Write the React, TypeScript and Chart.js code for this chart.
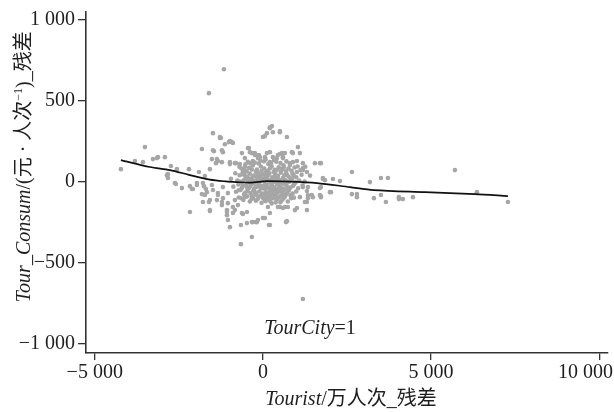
import React, { useEffect, useRef } from "react";
import { Chart, registerables } from "chart.js";

Chart.register(...registerables);

// Residual scatter points: [Tourist residual (万人次), Tour_Consum residual (元/人次)]
const residPoints: [number, number][] = [
  [-4222, 80], [-3508, 216], [-3805, 130], [-3568, 123], [-3270, 142], [-3122, 154], [-2914, 154],
  [-2735, 99], [-2824, 49], [-2824, 25], [-2587, -12], [-2408, -37], [-2557, 80], [-2200, 80],
  [-2170, -25], [-2170, -185], [-2111, -43], [-1903, 62], [-1962, -6], [-1814, 204], [-1724, 37],
  [-1754, -25], [-1695, -43], [-1724, -80], [-1784, -123], [-1605, -123], [-1576, -179], [-1516, 142],
  [-1457, 191], [-1576, 80], [-1486, 302], [-1397, 117], [-1338, 130], [-1159, 697], [-1605, 549],
  [-1278, 278], [-1011, 247], [-892, 241], [-1130, 234], [-416, 210], [-119, 167], [0, 278],
  [208, 339], [297, 308], [505, 308], [713, 278], [1041, 216], [892, 179], [565, 179], [119, 179],
  [-238, 179], [-803, 117], [-981, 123], [-1219, 123], [-1368, 142], [-624, 179], [-535, 148],
  [1100, 179], [1308, 62], [1546, 117], [1189, 117], [803, 117], [595, 154], [-1249, 272],
  [-922, 247], [-1486, 197], [-1189, 185], [-327, 179], [268, 346], [59, 284], [862, 185],
  [654, 179], [446, 167], [-89, 154], [1724, 117], [1011, 130], [1784, 19], [2081, 19], [2290, 6],
  [1189, -31], [1338, -80], [1486, -93], [1308, -123], [1724, -93], [1992, -62], [1011, -160],
  [743, -154], [446, -154], [595, -160], [713, -241], [0, -222], [-208, -247], [-327, -247],
  [178, -265], [-327, -339], [-654, -265], [-981, -278], [-654, -383], [-1070, -204], [-1070, -173],
  [-1576, -173], [-2616, -6], [-2854, 43], [-3151, 148], [-2081, -43], [-1962, -18], [-1784, -6],
  [-1516, -18], [-1814, -74], [-1665, -62], [-1486, -49], [-1338, -80], [-1189, -99], [-1041, -68],
  [-1368, -111], [-1576, -111], [-1219, -142], [-832, -111], [-892, -154], [-297, -247], [-178, -247],
  [684, -247], [1189, -722], [-832, -173], [-595, -197], [951, -173], [1308, -173], [1189, 74],
  [3181, 0], [1338, -31], [1724, -31], [1724, -86], [1308, -55], [1843, 12], [2022, -62], [2646, 62],
  [2646, -74], [2795, -74], [2795, -93], [3300, -99], [3508, 25], [3508, -80], [3716, 25], [3657, -123],
  [4043, -93], [4043, -105], [4162, -105], [4460, -93], [5708, 74], [6362, -62], [7284, -123],
  [-1219, -123], [-1041, -130], [-743, -142], [-1070, -185], [-892, -191], [-1041, -234], [-624, -191],
  [-476, -185], [-476, -253], [-149, -234], [59, -222], [208, -191], [149, -154], [-1338, -68],
  [-1189, -31], [1784, 25], [1695, -37], [1457, -80], [1338, -99], [1249, -123], [1100, -93],
  [654, -154], [505, -154], [208, -265], [1695, -80], [-1278, 272], [-981, 253], [-1219, 197],
  [-981, 111], [-832, 117], [-684, 111], [-535, 93], [-446, 210], [-386, 185], [-238, 167],
  [119, 302], [208, 333], [-149, 148], [59, 154], [208, 185], [505, 315], [505, 173], [595, 148],
  [416, 148], [297, 154], [208, 123], [892, 123], [803, 105], [1189, 86], [1695, 117], [1011, 62],
  [-700, 95], [-560, 72], [-410, 88], [-300, 102], [-180, 78], [-60, 96], [40, 84], [150, 70],
  [260, 98], [350, 76], [470, 92], [580, 80], [690, 66], [940, 90], [1120, 74], [1260, 95],
  [-820, 55], [-690, 42], [-600, 60], [-480, 35], [-390, 52], [-270, 40], [-150, 58], [-90, 32],
  [10, 48], [110, 36], [190, 55], [280, 30], [370, 50], [450, 38], [530, 58], [640, 44], [760, 35],
  [880, 52], [990, 30], [1150, 45], [1400, 40], [-950, 20], [-760, 10], [-640, -2], [-520, 22],
  [-440, 8], [-350, 15], [-250, -4], [-170, 18], [-100, 5], [-30, 22], [60, 2], [130, 16], [220, -3],
  [310, 20], [400, 6], [490, 14], [560, -4], [660, 12], [780, 2], [860, 18], [970, -2], [1080, 10],
  [1240, 4], [-880, -28], [-730, -15], [-620, -35], [-500, -20], [-420, -38], [-330, -12], [-220, -30],
  [-130, -16], [-50, -40], [30, -22], [100, -10], [180, -36], [260, -18], [340, -32], [430, -14],
  [520, -28], [600, -40], [700, -20], [820, -34], [930, -12], [1050, -38], [1180, -20], [-800, -60],
  [-660, -48], [-560, -75], [-460, -55], [-370, -68], [-280, -50], [-200, -78], [-110, -58], [-20, -70],
  [70, -48], [150, -66], [230, -80], [320, -55], [410, -72], [500, -50], [590, -64], [680, -78],
  [770, -52], [880, -70], [990, -58], [-720, -95], [-580, -110], [-470, -88], [-390, -120], [-290, -98],
  [-210, -115], [-120, -90], [-40, -128], [40, -105], [120, -92], [220, -118], [300, -100], [380, -125],
  [470, -95], [560, -112], [650, -90], [740, -120], [840, -100], [-450, 125], [-300, 130], [-120, 115],
  [30, 128], [160, 112], [330, 135], [520, 118], [700, 128],
  // dense core, second layer
  [-520, 110], [-380, 118], [-240, 120], [-80, 132], [80, 140], [240, 118], [400, 126], [610, 104],
  [-640, 84], [-480, 66], [-330, 78], [-210, 64], [-40, 70], [90, 60], [210, 86], [320, 62], [410, 74],
  [540, 70], [620, 92], [760, 84], [850, 70], [1030, 96], [-560, 46], [-430, 24], [-310, 30], [-190, 36],
  [-60, 44], [50, 24], [160, 42], [240, 14], [350, 36], [430, 22], [600, 26], [710, 48], [820, 24],
  [920, 40], [-700, 4], [-580, 10], [-390, -4], [-290, 8], [-140, -2], [-10, 8], [90, -4], [180, 6],
  [280, -8], [360, 2], [460, -6], [620, -10], [730, 4], [900, -22], [-600, -22], [-470, -34], [-370, -24],
  [-260, -42], [-170, -28], [-80, -22], [20, -34], [140, -26], [210, -52], [300, -40], [390, -46],
  [480, -38], [560, -56], [650, -46], [750, -36], [-720, -50], [-520, -64], [-330, -84], [-240, -62],
  [-60, -84], [60, -74], [190, -88], [280, -70], [360, -86], [450, -60], [540, -82], [720, -66],
  [820, -82], [-640, -100], [-530, -92], [-340, -104], [-160, -106], [0, -96], [80, -118], [170, -104],
  [260, -132], [420, -106], [520, -124], [610, -102], [920, -96],
];

// Smoothed fit line
const fitX = [-4222, -3360, -2765, -2200, -1576, -1100, -773, -386, 0, 119, 595, 1605, 2587, 3300, 4816, 6303, 7284];
const fitY = [136, 93, 74, 45, 15, 4, 0, -3, 4, 6, 4, -6, -31, -49, -62, -74, -86];

const xTicks = [-5000, 0, 5000, 10000];
const yTicks = [-1000, -500, 0, 500, 1000];

const FAMILY = "'Liberation Serif', 'Times New Roman', 'Noto Sans CJK SC', serif";
const TEXT = "#1e1e1e";
const AXIS = "#333333";
const FS = 20;

type Seg = { t: string; it?: boolean; sup?: boolean };

const yTitle: Seg[] = [
  { t: "Tour_Consum", it: true },
  { t: "/(元 · 人次" },
  { t: "\u22121", sup: true },
  { t: ")_残差" },
];
const xTitle: Seg[] = [{ t: "Tourist", it: true }, { t: "/万人次_残差" }];
const note: Seg[] = [{ t: "TourCity", it: true }, { t: "=1" }];

function fmt(v: number): string {
  const a = Math.abs(v);
  let s = String(a);
  if (a >= 1000) s = s.slice(0, s.length - 3) + " " + s.slice(s.length - 3);
  return (v < 0 ? "\u2212" : "") + s;
}

function segFont(s: Seg) {
  return `${s.it ? "italic " : ""}${s.sup ? Math.round(FS * 0.6) : FS}px ${FAMILY}`;
}

function drawRich(ctx: CanvasRenderingContext2D, segs: Seg[], x: number, y: number) {
  let total = 0;
  const widths = segs.map((s) => {
    ctx.font = segFont(s);
    const w = ctx.measureText(s.t).width;
    total += w;
    return w;
  });
  let cx = x - total / 2;
  ctx.textAlign = "left";
  ctx.textBaseline = "alphabetic";
  ctx.fillStyle = TEXT;
  segs.forEach((s, i) => {
    ctx.font = segFont(s);
    ctx.fillText(s.t, cx, s.sup ? y - FS * 0.42 : y);
    cx += widths[i];
  });
}

const textPlugin = {
  id: "richText",
  afterDraw(chart: any) {
    const ctx: CanvasRenderingContext2D = chart.ctx;
    const xs = chart.scales.x;
    const ys = chart.scales.y;
    const area = chart.chartArea;
    ctx.save();
    // x tick labels
    ctx.font = `${FS}px ${FAMILY}`;
    ctx.fillStyle = TEXT;
    ctx.textBaseline = "alphabetic";
    xTicks.forEach((v) => {
      const label = fmt(v);
      const w = ctx.measureText(label).width;
      const px = xs.getPixelForValue(v);
      let left = px - w / 2;
      if (left + w > chart.width - 1) left = chart.width - 1 - w;
      ctx.textAlign = "left";
      ctx.fillText(label, left, area.bottom + 25);
    });
    // x title
    drawRich(ctx, xTitle, (area.left + area.right) / 2 + 4, area.bottom + 52);
    // annotation
    drawRich(ctx, note, xs.getPixelForValue(1400), ys.getPixelForValue(-940));
    // y title
    ctx.save();
    ctx.translate(30, ys.getPixelForValue(95));
    ctx.rotate(-Math.PI / 2);
    drawRich(ctx, yTitle, 0, 0);
    ctx.restore();
    ctx.restore();
  },
};

export default function App() {
  const ref = useRef<HTMLCanvasElement>(null);
  useEffect(() => {
    document.body.style.margin = "0";
    const canvas = ref.current!;
    const chart = new Chart(canvas, {
      type: "scatter",
      data: {
        datasets: [
          {
            type: "line",
            data: fitX.map((x, i) => ({ x, y: fitY[i] })),
            borderColor: "#111111",
            borderWidth: 1.7,
            pointRadius: 0,
            fill: false,
            tension: 0.3,
            order: 0,
          } as any,
          {
            data: residPoints.map(([x, y]) => ({ x, y })),
            backgroundColor: "#a6a6a6",
            borderWidth: 0,
            pointRadius: 2.3,
            order: 1,
          },
        ],
      },
      options: {
        animation: false,
        responsive: false,
        maintainAspectRatio: false,
        events: [],
        layout: { padding: { top: 12, right: 6, left: 0, bottom: 0 } },
        plugins: { legend: { display: false }, tooltip: { enabled: false } },
        scales: {
          x: {
            type: "linear",
            min: -5260,
            max: 10260,
            afterBuildTicks: (s: any) => {
              s.ticks = xTicks.map((value) => ({ value }));
            },
            afterFit: (s: any) => {
              s.height = 59;
              s.paddingLeft = 0;
              s.paddingRight = 0;
            },
            ticks: { display: false, autoSkip: false },
            grid: {
              display: true,
              drawOnChartArea: false,
              drawTicks: true,
              tickLength: 7,
              color: AXIS,
              lineWidth: 1.3,
            },
            border: { display: true, color: AXIS, width: 1.6 },
          },
          y: {
            type: "linear",
            min: -1055,
            max: 1050,
            afterBuildTicks: (s: any) => {
              s.ticks = yTicks.map((value) => ({ value }));
            },
            afterFit: (s: any) => {
              s.width = 86;
              s.paddingTop = 0;
              s.paddingBottom = 0;
            },
            ticks: {
              autoSkip: false,
              padding: 3,
              color: TEXT,
              font: { family: FAMILY, size: FS },
              callback: (v: any) => fmt(Number(v)),
            },
            grid: {
              display: true,
              drawOnChartArea: false,
              drawTicks: true,
              tickLength: 8,
              color: AXIS,
              lineWidth: 1.3,
            },
            border: { display: true, color: AXIS, width: 1.6 },
          },
        },
      },
      plugins: [textPlugin],
    });
    return () => chart.destroy();
  }, []);
  return <canvas ref={ref} width={614} height={412} style={{ display: "block" }} />;
}
